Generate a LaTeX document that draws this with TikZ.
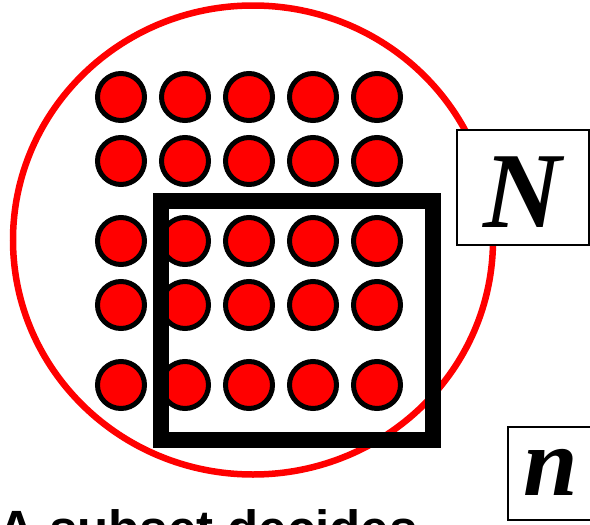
\documentclass[tikz,border=0pt]{standalone}
\usepackage{fontspec}
\setmainfont{Liberation Serif}
\newfontfamily\arialfont{Liberation Sans}
\usetikzlibrary{shapes.geometric}
\tikzset{
  dot/.style={circle, draw=black, fill=red, line width=5pt, minimum size=47pt, inner sep=0pt},
  letterbox/.style={rectangle, draw=black, fill=white, line width=2pt, inner sep=0pt},
  bigletter/.style={inner sep=0pt, anchor=base, font=\fontsize{108}{120}\selectfont\bfseries\itshape},
}
\begin{document}
\begin{tikzpicture}[x=1pt,y=-1pt]
\useasboundingbox (0,0) rectangle (590,525);
\clip (0,0) rectangle (590,525);
% population circle
\node[ellipse, draw=red, line width=6.5pt, minimum width=480pt, minimum height=469pt, inner sep=0pt] (pop) at (253,240) {};
% dots
\foreach \r/\y in {1/97,2/161,3/241,4/305,5/385}{
  \foreach \c/\x in {1/121,2/185,3/249,4/313,5/377}{
    \node[dot] (d\r\c) at (\x,\y) {};
  }
}
% subset square
\node[rectangle, draw=black, line width=16pt, minimum width=272.3pt, minimum height=239.3pt, inner sep=0pt] (sub) at (297.2,320.7) {};
% N box
\node[letterbox, minimum width=131.4pt, minimum height=115pt] (Nbox) at (523,187.5) {};
\node[bigletter] (N) at (522,227) {N};
% n box
\node[letterbox, minimum width=84pt, minimum height=93.3pt] (nbox) at (549.7,473.3) {};
\node[bigletter, font=\fontsize{98}{110}\selectfont\bfseries\itshape] (n) at (551,495) {n};
% caption
\node[inner sep=0pt, anchor=base west, font=\arialfont\fontsize{51}{60}\selectfont\bfseries] (cap) at (-2,546.5) {A subset decides};
\end{tikzpicture}
\end{document}
